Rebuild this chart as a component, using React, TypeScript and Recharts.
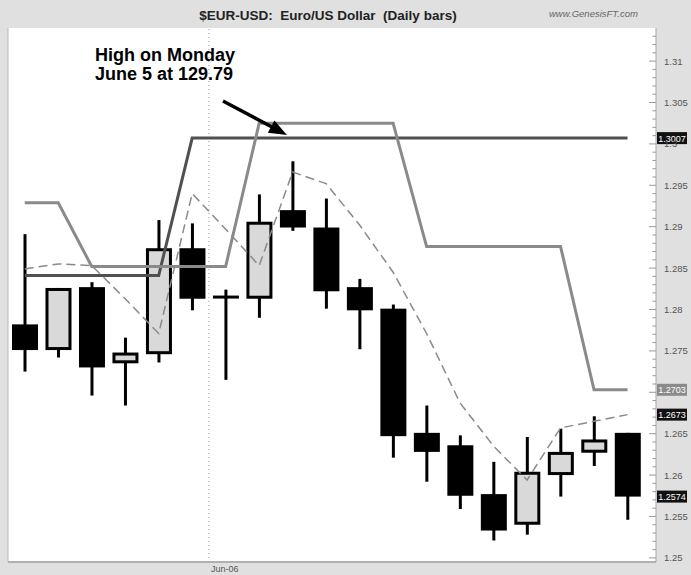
import React from 'react';
import { ComposedChart, Bar, Line, XAxis, YAxis, CartesianGrid, ReferenceLine } from 'recharts';

// daily bars, 24 May - 19 Jun 2006
const dates = [
  'May-24', 'May-25', 'May-26', 'May-29', 'May-30', 'May-31', 'Jun-01', 'Jun-02', 'Jun-05', 'Jun-06',
  'Jun-07', 'Jun-08', 'Jun-09', 'Jun-12', 'Jun-13', 'Jun-14', 'Jun-15', 'Jun-16', 'Jun-19',
];
const opens = [1.2782, 1.2751, 1.2827, 1.2735, 1.2746, 1.2874, 1.2815, 1.2813, 1.2920, 1.2899, 1.2827, 1.2801, 1.2651, 1.2636, 1.2577, 1.2540, 1.2600, 1.2627, 1.2651];
const highs = [1.2891, 1.2826, 1.2833, 1.2766, 1.2908, 1.2904, 1.2824, 1.2939, 1.2979, 1.2934, 1.2837, 1.2806, 1.2684, 1.2648, 1.2616, 1.2646, 1.2656, 1.2671, 1.2651];
const lows = [1.2725, 1.2742, 1.2696, 1.2684, 1.2736, 1.2799, 1.2715, 1.2790, 1.2895, 1.2801, 1.2752, 1.2621, 1.2592, 1.2559, 1.2521, 1.2528, 1.2574, 1.2611, 1.2546];
const closes = [1.2751, 1.2826, 1.2730, 1.2748, 1.2874, 1.2813, 1.2815, 1.2906, 1.2899, 1.2822, 1.2799, 1.2647, 1.2628, 1.2575, 1.2533, 1.2604, 1.2628, 1.2643, 1.2574];

// channel lines and moving average
const upperLine = [1.2841, 1.2841, 1.2841, 1.2841, 1.2841, 1.3007, 1.3007, 1.3007, 1.3007, 1.3007, 1.3007, 1.3007, 1.3007, 1.3007, 1.3007, 1.3007, 1.3007, 1.3007, 1.3007];
const midLine = [1.2929, 1.2929, 1.2852, 1.2852, 1.2852, 1.2852, 1.2852, 1.3025, 1.3025, 1.3025, 1.3025, 1.3025, 1.2876, 1.2876, 1.2876, 1.2876, 1.2876, 1.2703, 1.2703];
const avgLine = [1.2849, 1.2855, 1.2853, 1.2813, 1.2771, 1.2940, 1.2897, 1.2853, 1.2966, 1.2952, 1.2902, 1.2845, 1.2771, 1.2687, 1.2635, 1.2594, 1.2657, 1.2665, 1.2673];

const priceLabels = [1.25, 1.255, 1.26, 1.265, 1.27, 1.275, 1.28, 1.285, 1.29, 1.295, 1.3, 1.305, 1.31];
const monthTicks = [5.5];
const monthLabels = ['Jun-06'];
const flagValues = [1.3007, 1.2703, 1.2673, 1.2574];
const flagColors = ['#111', '#8a8a8a', '#111', '#111'];

const data = dates.map((d, i) => ({
  x: i,
  date: d,
  open: opens[i],
  high: highs[i],
  low: lows[i],
  close: closes[i],
  range: [lows[i], highs[i]],
  upper: upperLine[i],
  mid: midLine[i],
  avg: avgLine[i],
}));

// minor ticks every 0.001
const allTicks: number[] = [];
for (let t = 1250; t <= 1313; t++) allTicks.push(t / 1000);

const AXIS_X = 656;

const Candle = (props: any) => {
  const { x, y, width, height, payload } = props;
  const { open, close, high, low } = payload;
  const top = Math.min(y, y + height);
  const k = Math.abs(height) / (high - low || 1);
  const py = (v: number) => top + (high - v) * k;
  const cx = x + width / 2;
  const bTop = py(Math.max(open, close));
  const bBot = py(Math.min(open, close));
  const up = close > open;
  return (
    <g>
      <line x1={cx} x2={cx} y1={py(high)} y2={py(low)} stroke="#000" strokeWidth={3} />
      {open === close ? (
        <rect x={x} y={bTop - 1.5} width={width} height={3} fill="#000" />
      ) : up ? (
        <rect x={x + 1.5} y={bTop + 1.5} width={width - 3} height={Math.max(bBot - bTop - 3, 1)} fill="#d9d9d9" stroke="#000" strokeWidth={3} />
      ) : (
        <rect x={x} y={bTop} width={width} height={bBot - bTop} fill="#000" />
      )}
    </g>
  );
};

const PriceTick = (props: any) => {
  const { y, payload } = props;
  const v = payload.value;
  const label = priceLabels.find((p) => Math.abs(p - v) < 1e-6);
  // labels hidden behind a last-value flag
  const covered = flagValues.some((f) => Math.abs(f - v) < 0.0006);
  return (
    <g>
      <line x1={AXIS_X - (label !== undefined ? 7 : 3.5)} x2={AXIS_X} y1={y} y2={y} stroke="#999" strokeWidth={1} />
      {label !== undefined && !covered && (
        <text x={664} y={y + 3.5} fontSize={9.5} fill="#555" fontFamily="Liberation Sans, Arial, sans-serif">
          {String(label)}
        </text>
      )}
    </g>
  );
};

const MonthTick = (props: any) => {
  const { x, payload } = props;
  const i = monthTicks.indexOf(payload.value);
  return (
    <text x={x + 2} y={572} fontSize={9} fill="#555" fontFamily="Liberation Sans, Arial, sans-serif">
      {monthLabels[i]}
    </text>
  );
};

const flag = (i: number) => (p: any) => {
  const vb = p.viewBox || {};
  const yy = vb.y;
  return (
    <g>
      <rect x={AXIS_X + 1} y={yy - 6} width={30} height={12} fill={flagColors[i]} />
      <text x={AXIS_X + 16} y={yy + 3.5} textAnchor="middle" fontSize={9} fill="#fff" fontFamily="Liberation Sans, Arial, sans-serif">
        {flagValues[i].toFixed(4)}
      </text>
    </g>
  );
};

export default function App() {
  return (
    <div style={{ position: 'absolute', left: 0, top: 0, width: 691, height: 575, background: '#e0e0e0', fontFamily: 'Liberation Sans, Arial, sans-serif' }}>
      <ComposedChart width={691} height={575} data={data} margin={{ top: 28, right: 0, bottom: 0, left: 8 }}>
        <CartesianGrid horizontal={false} vertical={false} fill="#fff" stroke="none" />
        <XAxis
          dataKey="x"
          type="number"
          domain={[-0.5, 18.85]}
          allowDataOverflow
          ticks={monthTicks}
          interval={0}
          tick={MonthTick}
          tickLine={false}
          axisLine={{ stroke: '#b0b0b0', strokeWidth: 2 }}
          height={13}
        />
        <YAxis
          orientation="right"
          type="number"
          domain={[1.2495, 1.314]}
          allowDataOverflow
          ticks={allTicks}
          interval={0}
          tick={PriceTick}
          tickLine={false}
          axisLine={{ stroke: '#a8a8a8' }}
          width={35}
        />
        <ReferenceLine x={-0.5} stroke="#b8b8b8" />
        <ReferenceLine x={5.5} stroke="#9a9a9a" strokeDasharray="1 3" />
        <Bar dataKey="range" barSize={26} shape={Candle} isAnimationActive={false} />
        <Line dataKey="upper" type="linear" stroke="#505050" strokeWidth={3} dot={false} isAnimationActive={false} />
        <Line dataKey="mid" type="linear" stroke="#8a8a8a" strokeWidth={3} dot={false} isAnimationActive={false} />
        <Line dataKey="avg" type="linear" stroke="#8a8a8a" strokeWidth={1.5} strokeDasharray="9 5" dot={false} isAnimationActive={false} />
        {flagValues.map((v, i) => (
          <ReferenceLine key={v} y={v} stroke="none" label={{ content: flag(i) }} />
        ))}
      </ComposedChart>
      <div style={{ position: 'absolute', left: 0, width: 656, top: 8, textAlign: 'center', fontSize: 13.5, fontWeight: 'bold', color: '#222', whiteSpace: 'pre', lineHeight: '16px' }}>
        {'$EUR-USD:  Euro/US Dollar  (Daily bars)'}
      </div>
      <div style={{ position: 'absolute', left: 549, top: 8, fontSize: 9.5, fontStyle: 'italic', color: '#666' }}>
        www.GenesisFT.com
      </div>
      <div style={{ position: 'absolute', left: 95, top: 46, fontSize: 18, fontWeight: 'bold', color: '#000', lineHeight: '19px' }}>
        High on Monday
        <br />
        June 5 at 129.79
      </div>
      <svg width={691} height={575} style={{ position: 'absolute', left: 0, top: 0, pointerEvents: 'none' }}>
        <line x1={223} y1={101} x2={272} y2={127} stroke="#000" strokeWidth={3.5} />
        <polygon points="287,135 267.8,132.8 274.4,120.4" fill="#000" />
      </svg>
    </div>
  );
}
